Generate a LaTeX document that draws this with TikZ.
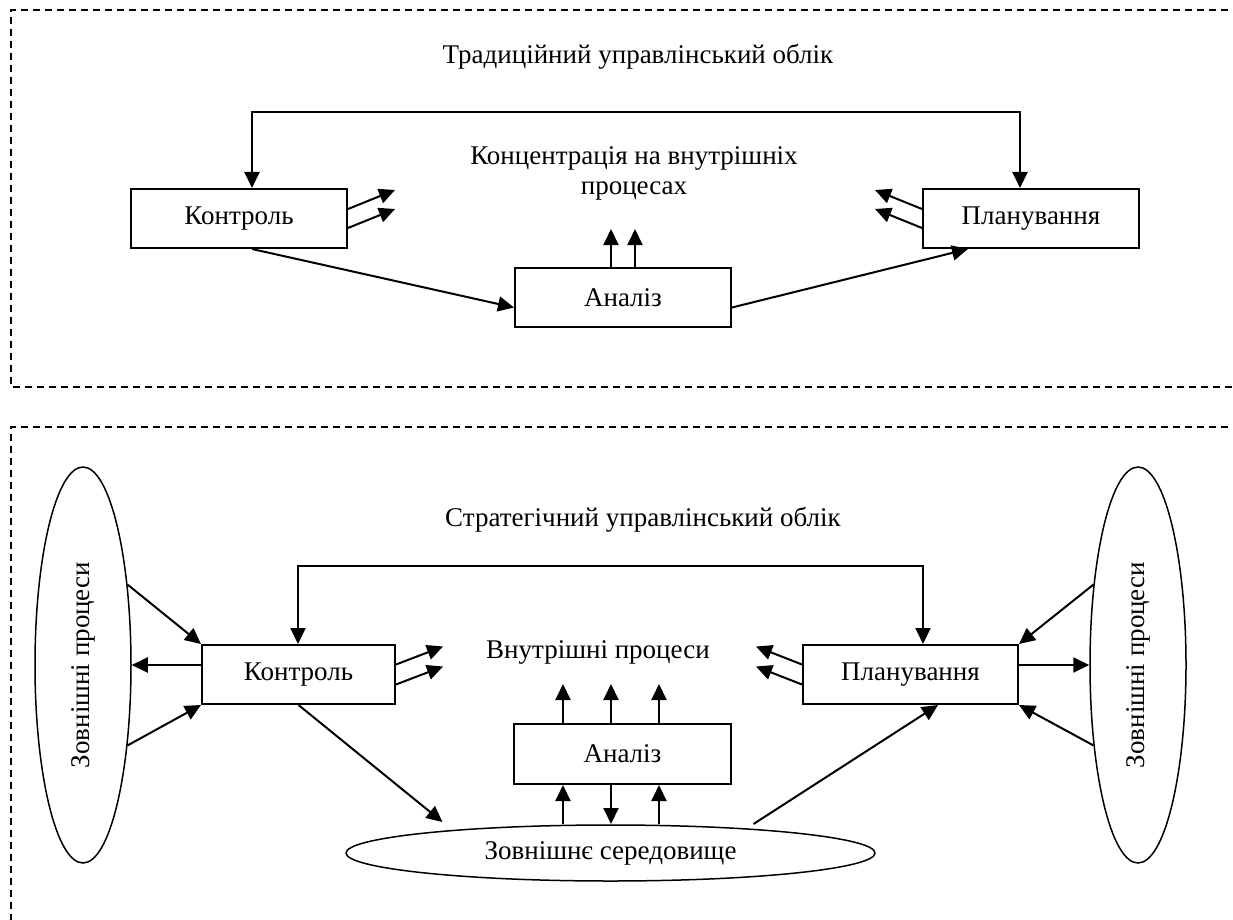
\documentclass[tikz,border=0pt]{standalone}
\usepackage{fontspec}
\setmainfont{Liberation Serif}
\usetikzlibrary{shapes.geometric,arrows.meta,calc}
\begin{document}
\begin{tikzpicture}[x=1pt,y=-1pt,
  every node/.style={font=\fontsize{27}{30}\selectfont, inner sep=0pt},
  blk/.style={draw, line width=2pt, minimum height=59pt},
  ell/.style={ellipse, draw, line width=1.5pt},
  ln/.style={line width=2pt},
  arr/.style={line width=2pt, -{Triangle[length=16pt,width=15pt]}},
  dbl/.style={line width=2pt, line join=miter, {Triangle[length=16pt,width=15pt]}-{Triangle[length=16pt,width=15pt]}},
  frame/.style={line width=1.8pt, dash pattern=on 7pt off 5pt}]
\clip (0,0) rectangle (1233,920);
\fill[white] (0,0) rectangle (1233,920);

% frames
\draw[frame] (1240,10) -- (11,10) -- (11,387) -- (1240,387);
\draw[frame] (1240,427) -- (11,427) -- (11,930);

% ===== top part =====
\node (tt) at (638,57) {Традиційний управлінський облік};
\node[blk, minimum width=216pt] (kt) at (239,218.5) {Контроль};
\node[blk, minimum width=216pt] (pt) at (1031,218.5) {Планування};
\node[blk, minimum width=216pt] (at) at (623,297.5) {Аналіз};
\node[align=center] (ct) at (634,173) {Концентрація на внутрішніх\\процесах};

\coordinate (fbL) at (252,112);
\coordinate (fbR) at (1020,112);
\draw[dbl] (kt.north -| fbL) -- (fbL) -- (fbR) -- (pt.north -| fbR);

\draw[arr] ($(kt.east)+(0,-9.5)$) -- ++(47,-19);
\draw[arr] ($(kt.east)+(0,9.5)$) -- ++(47,-19);
\draw[arr] ($(pt.west)+(0,-9.5)$) -- ++(-47,-19);
\draw[arr] ($(pt.west)+(0,9.5)$) -- ++(-47,-19);
\draw[arr] ($(at.north)+(-12,0)$) -- ++(0,-38);
\draw[arr] ($(at.north)+(12,0)$) -- ++(0,-38);
\draw[arr] ($(kt.south)+(13,0)$) -- ($(at.west)+(0,10)$);
\draw[arr] ($(at.east)+(0,10)$) -- ($(pt.south)+(-63,0)$);

% ===== bottom part =====
\node (ts) at (643,520) {Стратегічний управлінський облік};
\node[blk, minimum width=193pt] (kb) at (298.5,674.5) {Контроль};
\node[blk, minimum width=215pt] (pb) at (910.5,674.5) {Планування};
\node[blk, minimum width=217pt, minimum height=60pt] (ab) at (622.5,754) {Аналіз};
\node (vp) at (598,652) {Внутрішні процеси};
\node[ell, minimum width=529pt, minimum height=56pt] (env) at (610.5,853) {Зовнішнє середовище};
\node[ell, minimum width=96pt, minimum height=396pt] (le) at (83,665) {\rotatebox{90}{Зовнішні процеси}};
\node[ell, minimum width=96pt, minimum height=396pt] (re) at (1138,665) {\rotatebox{90}{Зовнішні процеси}};

\coordinate (gL) at (298,566);
\coordinate (gR) at (923,566);
\draw[dbl] (kb.north -| gL) -- (gL) -- (gR) -- (pb.north -| gR);

\draw[arr] ($(kb.east)+(0,-10)$) -- ++(47,-18);
\draw[arr] ($(kb.east)+(0,10)$) -- ++(47,-18);
\draw[arr] ($(pb.west)+(0,-10)$) -- ++(-46,-18);
\draw[arr] ($(pb.west)+(0,10)$) -- ++(-46,-18);

\draw[arr] (kb.west |- le.east) -- (le.east);
\draw[arr] (le.61) -- (kb.north west);
\draw[arr] (le.-61) -- (kb.south west);
\draw[arr] (pb.east |- re.west) -- (re.west);
\draw[arr] (re.119) -- (pb.north east);
\draw[arr] (re.-119) -- (pb.south east);

\draw[arr] (kb.south) -- ($(env.center)+(-168,-31)$);
\draw[arr] ($(env.center)+(143,-29)$) -- ($(pb.south)+(27.5,0)$);

\draw[arr] ($(ab.north)+(-59.5,0)$) -- ++(0,-39);
\draw[arr] ($(ab.north)+(-11.5,0)$) -- ++(0,-39);
\draw[arr] ($(ab.north)+(36.5,0)$) -- ++(0,-39);
\draw[arr] ($(ab.south)+(-59.5,39)$) -- ($(ab.south)+(-59.5,0)$);
\draw[arr] ($(ab.south)+(-11.5,0)$) -- ($(ab.south)+(-11.5,39)$);
\draw[arr] ($(ab.south)+(36.5,39)$) -- ($(ab.south)+(36.5,0)$);
\end{tikzpicture}
\end{document}
